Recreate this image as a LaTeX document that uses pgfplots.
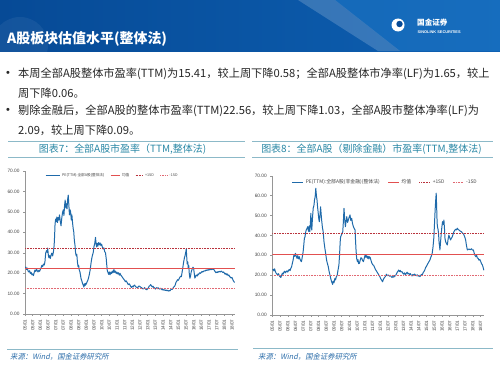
\documentclass[border=0pt]{standalone}
\usepackage{pgfplots}
\usepackage{pgfplotstable}
\pgfplotsset{compat=1.18}
\usepackage{fontspec}
\setmainfont{Liberation Sans}
\newfontfamily\cjk{Noto Sans CJK SC}
\newfontfamily\cjkit{Noto Sans CJK SC}[FakeSlant=0.2]
\definecolor{hdrA}{RGB}{6,74,150}
\definecolor{hdrB}{RGB}{14,96,178}
\definecolor{hdrC}{RGB}{30,120,200}
\definecolor{bodytxt}{RGB}{38,38,38}
\definecolor{ttl}{RGB}{40,135,165}
\definecolor{sep}{RGB}{140,185,200}
\definecolor{src}{RGB}{45,110,170}
\definecolor{peblue}{RGB}{31,106,170}
\definecolor{meanred}{RGB}{226,80,80}
\definecolor{sdred}{RGB}{185,50,60}
\definecolor{sdpink}{RGB}{225,105,115}
\definecolor{axgray}{RGB}{150,150,150}
\definecolor{tickgray}{RGB}{70,70,70}

\pgfplotstableread{
year pe
2005.00 22.4
2005.05 23.0
2005.10 21.8
2005.15 22.5
2005.20 21.0
2005.25 20.6
2005.30 21.2
2005.35 19.8
2005.40 20.4
2005.45 19.2
2005.50 19.6
2005.55 18.8
2005.60 20.3
2005.65 21.5
2005.70 20.8
2005.75 22.0
2005.80 21.2
2005.85 20.6
2005.90 21.4
2005.95 20.9
2006.00 21.8
2006.05 22.6
2006.10 23.8
2006.15 23.2
2006.20 24.4
2006.25 23.9
2006.30 25.5
2006.35 29.8
2006.40 31.0
2006.45 30.2
2006.48 32.3
2006.52 29.0
2006.56 27.5
2006.60 28.6
2006.65 27.2
2006.70 28.8
2006.75 29.8
2006.80 28.4
2006.85 30.2
2006.90 33.5
2006.93 38.0
2006.96 44.0
2007.00 46.5
2007.04 45.2
2007.08 47.5
2007.12 44.8
2007.16 47.2
2007.20 46.0
2007.25 48.5
2007.30 45.5
2007.35 43.2
2007.40 47.0
2007.45 49.8
2007.50 51.0
2007.54 48.2
2007.58 53.0
2007.62 55.8
2007.66 52.0
2007.70 54.0
2007.74 51.5
2007.78 56.0
2007.82 58.2
2007.86 53.5
2007.90 48.5
2007.94 51.0
2007.98 49.8
2008.02 46.0
2008.06 48.5
2008.10 44.8
2008.14 42.0
2008.18 40.2
2008.22 36.0
2008.26 33.8
2008.30 30.0
2008.34 28.5
2008.38 29.2
2008.42 25.5
2008.46 23.2
2008.50 23.8
2008.54 21.5
2008.58 20.8
2008.62 19.0
2008.66 17.2
2008.70 16.4
2008.75 15.0
2008.80 14.2
2008.84 13.2
2008.88 14.8
2008.92 13.9
2008.96 15.0
2009.00 14.6
2009.05 15.8
2009.10 16.5
2009.15 17.8
2009.20 19.5
2009.25 21.5
2009.30 24.5
2009.35 27.0
2009.40 28.8
2009.45 30.0
2009.50 33.0
2009.55 34.5
2009.60 37.5
2009.63 35.0
2009.67 32.8
2009.71 34.6
2009.75 33.2
2009.80 35.0
2009.85 33.8
2009.90 34.8
2009.95 33.5
2010.00 34.2
2010.05 32.6
2010.10 31.8
2010.15 32.4
2010.20 30.5
2010.25 30.0
2010.30 27.0
2010.34 23.5
2010.37 21.2
2010.42 20.2
2010.46 19.4
2010.50 20.6
2010.55 19.2
2010.60 20.5
2010.65 19.8
2010.70 21.0
2010.75 20.2
2010.80 21.8
2010.85 20.4
2010.90 21.0
2010.95 19.8
2011.00 20.5
2011.05 19.6
2011.10 20.2
2011.15 19.0
2011.20 19.9
2011.25 19.0
2011.30 18.6
2011.35 18.0
2011.40 17.5
2011.45 17.0
2011.50 16.5
2011.55 15.8
2011.60 16.2
2011.65 15.6
2011.70 14.8
2011.75 14.4
2011.80 14.8
2011.85 14.2
2011.90 13.4
2011.95 13.0
2012.00 13.6
2012.05 13.2
2012.10 13.9
2012.15 14.2
2012.20 13.5
2012.25 13.2
2012.30 13.0
2012.35 12.8
2012.40 13.5
2012.45 13.7
2012.50 13.4
2012.55 13.1
2012.60 12.9
2012.65 12.6
2012.70 12.3
2012.75 12.5
2012.80 12.9
2012.85 12.4
2012.90 12.0
2012.95 11.9
2013.00 12.3
2013.05 12.9
2013.10 13.6
2013.15 13.9
2013.20 14.4
2013.25 13.8
2013.30 13.2
2013.35 13.6
2013.40 13.0
2013.45 12.8
2013.50 12.2
2013.55 12.6
2013.60 12.9
2013.65 12.4
2013.70 12.8
2013.75 12.3
2013.80 12.2
2013.85 12.6
2013.90 12.2
2013.95 11.8
2014.00 12.1
2014.05 11.7
2014.10 11.9
2014.15 11.5
2014.20 11.8
2014.25 11.4
2014.30 11.6
2014.35 11.2
2014.40 11.5
2014.45 11.3
2014.50 11.8
2014.55 12.2
2014.60 12.0
2014.65 12.6
2014.70 13.2
2014.75 13.5
2014.80 14.2
2014.85 15.5
2014.90 16.0
2014.95 16.8
2015.00 16.5
2015.05 17.2
2015.10 17.9
2015.15 18.5
2015.20 18.3
2015.25 20.5
2015.30 23.0
2015.35 25.5
2015.40 27.5
2015.44 28.5
2015.48 30.0
2015.52 31.8
2015.55 28.0
2015.58 24.5
2015.62 25.5
2015.65 22.5
2015.68 23.8
2015.72 19.5
2015.76 17.5
2015.80 18.6
2015.84 20.5
2015.88 21.5
2015.92 22.2
2015.96 22.9
2016.00 22.4
2016.04 20.0
2016.08 17.6
2016.12 18.2
2016.16 19.0
2016.20 19.1
2016.24 18.6
2016.28 19.5
2016.32 19.2
2016.36 19.8
2016.40 20.2
2016.45 19.9
2016.50 20.4
2016.55 20.8
2016.60 20.5
2016.65 20.9
2016.70 21.2
2016.75 21.0
2016.80 21.5
2016.85 21.3
2016.90 21.7
2016.95 21.4
2017.00 21.8
2017.05 21.6
2017.10 22.0
2017.15 21.7
2017.20 22.2
2017.25 21.8
2017.30 22.1
2017.35 21.4
2017.40 20.8
2017.45 20.2
2017.50 20.6
2017.55 20.3
2017.60 20.8
2017.65 20.5
2017.70 20.9
2017.75 20.6
2017.80 21.0
2017.85 20.7
2017.90 20.3
2017.95 20.6
2018.00 20.1
2018.05 19.5
2018.10 19.9
2018.15 19.2
2018.20 19.6
2018.25 18.8
2018.30 19.1
2018.35 18.3
2018.40 18.0
2018.45 17.6
2018.50 17.9
2018.55 17.0
2018.60 16.2
2018.67 15.4
}\allA

\pgfplotstableread{
year pe
2005.00 22.6
2005.05 23.0
2005.10 22.2
2005.15 23.2
2005.20 21.8
2005.25 21.0
2005.30 20.6
2005.35 20.1
2005.40 20.8
2005.45 19.8
2005.50 19.2
2005.55 18.9
2005.60 19.8
2005.65 21.0
2005.70 20.5
2005.75 21.5
2005.80 22.0
2005.85 21.2
2005.90 21.8
2005.95 22.2
2006.00 21.6
2006.05 22.4
2006.10 22.9
2006.15 22.3
2006.20 23.5
2006.25 24.2
2006.30 26.0
2006.35 27.6
2006.40 30.2
2006.45 29.5
2006.50 31.0
2006.55 29.6
2006.60 28.5
2006.65 29.8
2006.70 28.2
2006.75 29.3
2006.80 28.0
2006.85 27.2
2006.89 26.8
2006.93 28.5
2006.97 30.5
2007.00 31.8
2007.04 35.0
2007.08 38.5
2007.12 39.3
2007.16 41.5
2007.20 42.7
2007.25 43.5
2007.30 44.4
2007.35 42.0
2007.40 44.8
2007.43 41.9
2007.47 46.0
2007.50 51.1
2007.53 45.0
2007.56 42.7
2007.60 48.0
2007.65 53.6
2007.70 55.0
2007.74 58.0
2007.78 59.4
2007.82 63.7
2007.86 60.0
2007.90 57.8
2007.94 54.0
2007.98 51.1
2008.02 48.0
2008.05 46.9
2008.09 50.0
2008.13 54.4
2008.17 50.5
2008.20 47.7
2008.25 44.0
2008.30 41.9
2008.35 37.0
2008.41 33.5
2008.46 31.0
2008.52 27.6
2008.57 26.0
2008.63 24.3
2008.68 22.0
2008.74 20.1
2008.80 18.0
2008.85 16.7
2008.91 15.4
2008.95 17.0
2009.00 16.2
2009.06 18.4
2009.10 17.6
2009.15 19.2
2009.21 20.1
2009.26 22.5
2009.32 25.1
2009.36 30.0
2009.40 36.5
2009.43 39.3
2009.50 40.5
2009.57 41.9
2009.61 47.0
2009.65 53.6
2009.70 47.5
2009.74 44.4
2009.78 47.0
2009.83 49.4
2009.88 46.5
2009.93 47.7
2009.98 49.0
2010.04 50.3
2010.09 47.5
2010.15 48.6
2010.20 46.0
2010.26 44.4
2010.31 43.5
2010.37 42.7
2010.40 37.0
2010.43 32.7
2010.47 28.5
2010.52 26.8
2010.56 27.8
2010.60 25.8
2010.65 26.0
2010.70 27.5
2010.75 28.8
2010.80 28.5
2010.85 27.5
2010.91 26.8
2010.96 28.4
2011.02 30.2
2011.07 29.0
2011.12 29.8
2011.17 28.5
2011.22 29.5
2011.26 28.2
2011.30 29.3
2011.35 28.8
2011.40 27.5
2011.46 26.0
2011.52 25.2
2011.57 25.0
2011.61 24.3
2011.67 23.2
2011.72 22.5
2011.78 21.8
2011.84 21.0
2011.90 20.2
2011.95 19.6
2012.00 18.8
2012.05 18.0
2012.10 17.4
2012.15 16.7
2012.20 17.8
2012.25 18.6
2012.33 19.3
2012.40 20.5
2012.45 19.8
2012.54 20.1
2012.60 19.5
2012.66 19.9
2012.72 19.2
2012.76 18.9
2012.82 19.4
2012.88 19.0
2012.94 19.8
2012.98 19.6
2013.04 20.5
2013.10 21.5
2013.15 22.0
2013.19 22.6
2013.25 21.8
2013.30 22.4
2013.35 21.6
2013.41 21.8
2013.47 21.0
2013.52 20.5
2013.58 21.2
2013.63 20.1
2013.68 20.8
2013.74 21.5
2013.80 20.6
2013.85 21.0
2013.90 20.3
2013.96 20.8
2014.01 20.0
2014.06 19.6
2014.12 20.4
2014.18 19.8
2014.23 20.6
2014.28 20.1
2014.34 19.7
2014.40 20.2
2014.46 19.5
2014.52 19.9
2014.57 19.3
2014.62 19.8
2014.67 20.4
2014.72 20.1
2014.78 21.2
2014.83 21.8
2014.89 22.6
2014.94 23.8
2015.00 24.5
2015.04 25.1
2015.10 26.0
2015.16 26.8
2015.22 27.6
2015.27 28.8
2015.32 29.8
2015.37 31.0
2015.42 34.0
2015.45 36.5
2015.48 39.3
2015.52 46.0
2015.56 52.8
2015.60 58.0
2015.63 61.2
2015.66 54.0
2015.69 46.1
2015.72 44.0
2015.75 43.0
2015.78 41.1
2015.82 36.0
2015.85 34.5
2015.87 32.7
2015.91 36.5
2015.96 41.1
2016.00 44.5
2016.04 46.9
2016.09 45.5
2016.13 47.7
2016.17 43.0
2016.20 38.5
2016.24 36.8
2016.29 36.0
2016.35 35.2
2016.40 38.0
2016.45 40.2
2016.50 39.0
2016.56 37.7
2016.61 38.5
2016.67 39.3
2016.72 40.5
2016.78 41.9
2016.83 42.5
2016.89 43.1
2016.94 42.8
2017.00 43.6
2017.05 43.0
2017.11 42.7
2017.18 42.2
2017.26 41.9
2017.33 41.2
2017.39 40.8
2017.43 40.2
2017.49 39.0
2017.54 37.7
2017.58 35.5
2017.62 33.8
2017.65 32.7
2017.70 32.9
2017.76 33.2
2017.82 32.8
2017.87 33.0
2017.92 33.3
2017.98 32.6
2018.04 32.7
2018.09 31.2
2018.14 30.0
2018.20 29.3
2018.25 30.0
2018.30 28.6
2018.35 28.5
2018.40 27.6
2018.46 27.9
2018.52 26.8
2018.57 25.8
2018.62 25.2
2018.66 24.3
2018.72 22.5
}\exFin

\pgfplotsset{
  panel/.style={
    scale only axis,
    xmin=2005, ymin=0, ymax=70,
    enlargelimits=false,
    axis x line*=bottom, axis y line*=left,
    axis line style={axgray, line width=0.5pt},
    tick style={axgray, line width=0.4pt},
    major tick length=2pt, tick align=outside,
    ytick={0,10,20,30,40,50,60,70},
    xtick={2005,2005.5,2006,2006.5,2007,2007.5,2008,2008.5,2009,2009.5,2010,2010.5,2011,2011.5,2012,2012.5,2013,2013.5,2014,2014.5,2015,2015.5,2016,2016.5,2017,2017.5,2018,2018.5},
    xticklabels={05/01,05/07,06/01,06/07,07/01,07/07,08/01,08/07,09/01,09/07,10/01,10/07,11/01,11/07,12/01,12/07,13/01,13/07,14/01,14/07,15/01,15/07,16/01,16/07,17/01,17/07,18/01,18/07},
    x tick label style={rotate=90, anchor=east, font=\fontsize{4.6}{5}\selectfont, text=tickgray},
    y tick label style={font=\fontsize{4.8}{5}\selectfont, text=tickgray, /pgf/number format/.cd, fixed, fixed zerofill, precision=2},
    /pgf/number format/assume math mode=true,
    legend columns=4,
    legend style={draw=none, fill=none, text=tickgray, inner sep=0pt},
  },
  leglen/.style={legend image code/.code={\draw[##1] (0pt,0pt) -- (#1,0pt);}},
  pe/.style={peblue, line width=1.0pt, line join=round},
  mean/.style={meanred, line width=0.7pt},
  sdp/.style={sdred, line width=0.7pt, dash pattern=on 0.8pt off 0.8pt},
  sdm/.style={sdpink, line width=0.7pt, dash pattern=on 0.8pt off 0.8pt},
}

\begin{document}
\begin{tikzpicture}[x=1bp,y=1bp]
\useasboundingbox (0,0) rectangle (500,375);
\fill[white] (0,0) rectangle (500,375);
% header
\shade[left color=hdrA, right color=hdrB] (0,324) rectangle (500,375);
\fill[hdrC, opacity=0.55] (335,375) -- (500,375) -- (500,324) -- (400,324) -- cycle;
\fill[white, opacity=0.18] (298,375) -- (335,375) -- (400,324) -- (378,324) -- cycle;
\fill[white, opacity=0.06] (20,330) circle (28);
\node[anchor=west, inner sep=0, text=white] at (7,336.5) {\cjk\bfseries\fontsize{14}{16}\selectfont A股板块估值水平(整体法)};
\fill[white] (398,350) circle (6.5);
\fill[hdrA] (399.5,351) circle (3.2);
\node[anchor=west, inner sep=0, text=white] at (417,352.5) {\cjk\bfseries\fontsize{7.6}{8}\selectfont 国金证券};
\node[anchor=west, inner sep=0, text=white] at (417.5,343) {\bfseries\fontsize{3.9}{4}\selectfont SINOLINK SECURITIES};
% bullets
\begin{scope}[every node/.style={anchor=west, inner sep=0, text=bodytxt}]
\node at (6,301) {\fontsize{11}{12}\selectfont •};
\node at (18,301) {\cjk\fontsize{11.25}{13}\selectfont 本周全部A股整体市盈率(TTM)为15.41，较上周下降0.58；全部A股整体市净率(LF)为1.65，较上};
\node at (18,282) {\cjk\fontsize{11.25}{13}\selectfont 周下降0.06。};
\node at (6,264) {\fontsize{11}{12}\selectfont •};
\node at (18,264) {\cjk\fontsize{11.25}{13}\selectfont 剔除金融后，全部A股的整体市盈率(TTM)22.56，较上周下降1.03，全部A股市整体净率(LF)为};
\node at (18,245) {\cjk\fontsize{11.25}{13}\selectfont 2.09，较上周下降0.09。};
\end{scope}
% panel frames
\draw[sep, line width=0.6pt] (8,234) -- (245,234);
\draw[sep, line width=0.6pt] (252,234) -- (493,234);
\draw[sep, line width=0.5pt] (8,218) -- (245,218);
\draw[sep, line width=0.5pt] (252,218) -- (493,218);
\node[inner sep=0, text=ttl] at (122.5,225.5) {\cjk\fontsize{10}{11}\selectfont 图表7：全部A股市盈率（TTM,整体法)};
\node[inner sep=0, text=ttl] at (371.5,225.5) {\cjk\fontsize{10}{11}\selectfont 图表8：全部A股（剔除金融）市盈率(TTM,整体法)};
\draw[sep, line width=0.6pt] (7,26) -- (238,26);
\draw[sep, line width=0.6pt] (253,27) -- (493,27);
\node[anchor=west, inner sep=0, text=src] at (10,18.3) {\cjkit\fontsize{7.4}{8}\selectfont 来源：Wind，国金证券研究所};
\node[anchor=west, inner sep=0, text=src] at (258,18.3) {\cjkit\fontsize{7.4}{8}\selectfont 来源：Wind，国金证券研究所};

% left chart
\begin{axis}[panel, at={(25bp,61bp)}, anchor=south west, width=210bp, height=143bp, xmax=2018.7,
  legend style={at={(rel axis cs:0.095,0.968)}, anchor=west,
    font=\cjk\fontsize{3.7}{4}\selectfont,
    /tikz/every even column/.append style={column sep=4pt}}]
\addplot[pe, leglen=14pt] table[x=year,y=pe] {\allA};
\addlegendentry{PE(TTM):全部A股(整体法)}
\addplot[mean, leglen=9pt] coordinates {(2005,22.5) (2018.7,22.5)};
\addlegendentry{均值}
\addplot[sdp, leglen=7pt] coordinates {(2005,32.1) (2018.7,32.1)};
\addlegendentry{+1SD}
\addplot[sdm, leglen=7pt] coordinates {(2005,12.8) (2018.7,12.8)};
\addlegendentry{-1SD}
\end{axis}

% right chart
\begin{axis}[panel, at={(272.3bp,60bp)}, anchor=south west, width=212bp, height=139.3bp, xmax=2018.75,
  legend style={at={(rel axis cs:0.0915,0.953)}, anchor=west,
    font=\cjk\fontsize{4.9}{5}\selectfont,
    /tikz/every even column/.append style={column sep=6pt}}]
\addplot[pe, leglen=11pt] table[x=year,y=pe] {\exFin};
\addlegendentry{PE(TTM):全部A股(非金融)(整体法)}
\addplot[mean, leglen=11pt] coordinates {(2005,30.4) (2018.75,30.4)};
\addlegendentry{均值}
\addplot[sdp, leglen=11pt] coordinates {(2005,41.0) (2018.75,41.0)};
\addlegendentry{+1SD}
\addplot[sdm, leglen=11pt] coordinates {(2005,19.8) (2018.75,19.8)};
\addlegendentry{-1SD}
\end{axis}
\end{tikzpicture}
\end{document}
